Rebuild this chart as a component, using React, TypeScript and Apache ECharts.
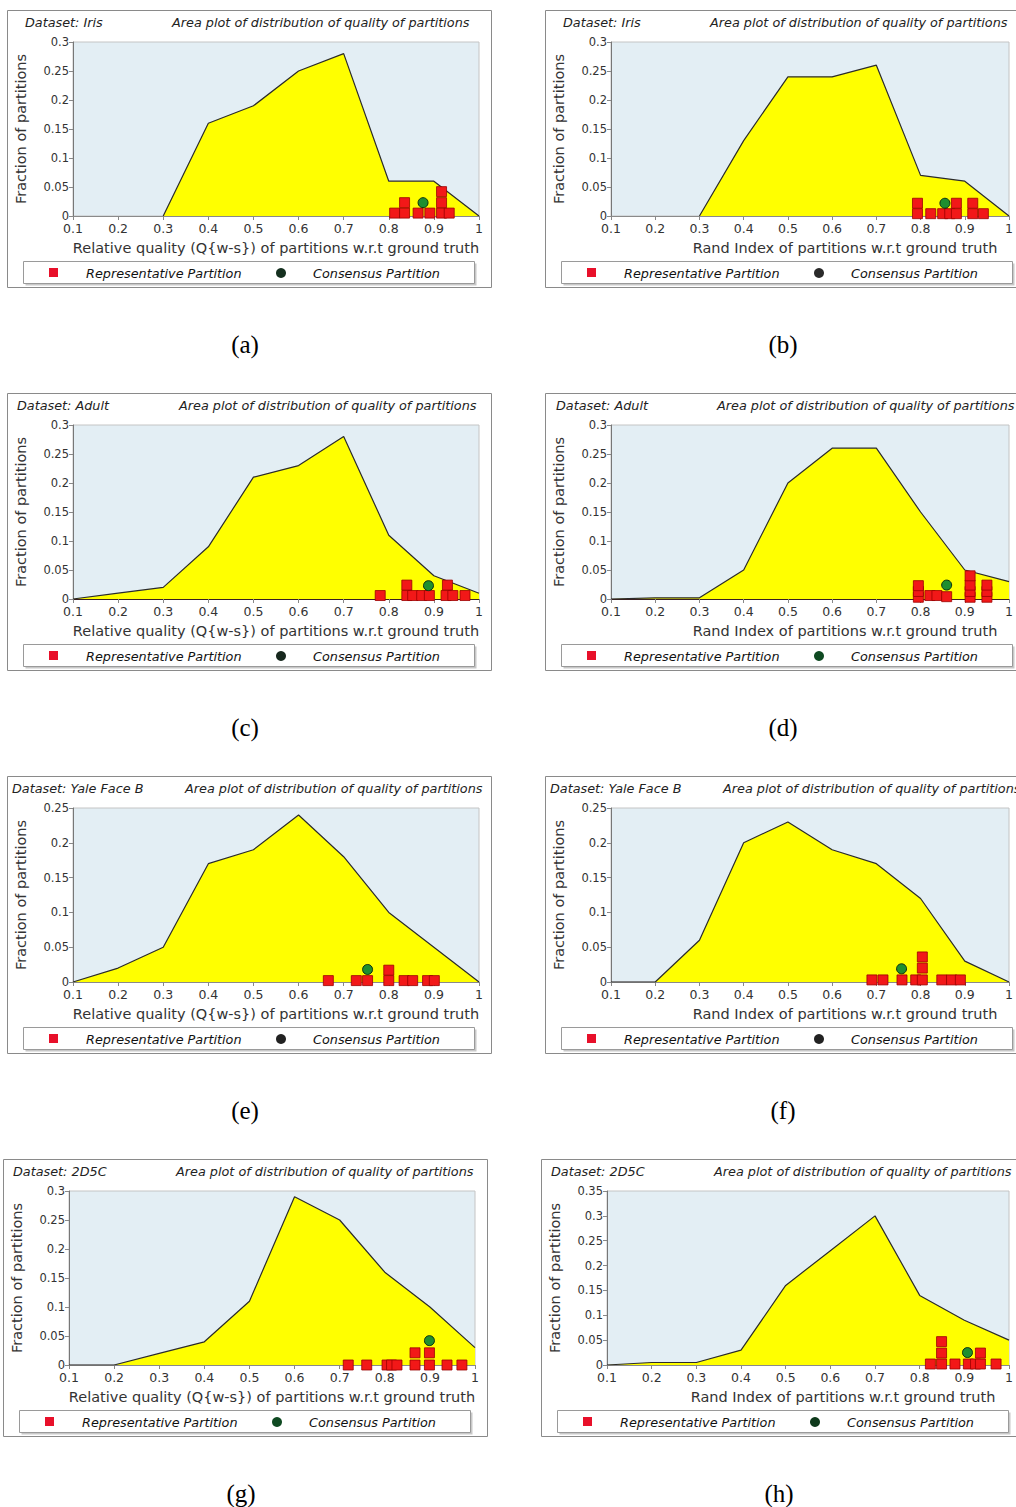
import React, { useEffect, useRef } from "react";
import * as echarts from "echarts";

// Quality bins (x positions of the area-plot vertices)
const qualityBins = [0.1, 0.2, 0.3, 0.4, 0.5, 0.6, 0.7, 0.8, 0.9, 1.0];

// Fraction of partitions per quality bin (null = bin not populated)
const irisQws = [null, null, 0, 0.16, 0.19, 0.25, 0.28, 0.06, 0.06, 0];
const irisRand = [null, null, 0, 0.13, 0.24, 0.24, 0.26, 0.07, 0.06, 0];
const adultQws = [0, 0.01, 0.02, 0.09, 0.21, 0.23, 0.28, 0.11, 0.04, 0.01];
const adultRand = [0, 0.002, 0.002, 0.05, 0.2, 0.26, 0.26, 0.15, 0.05, 0.03];
const yaleQws = [0, 0.02, 0.05, 0.17, 0.19, 0.24, 0.18, 0.1, 0.05, 0];
const yaleRand = [0, 0, 0.06, 0.2, 0.23, 0.19, 0.17, 0.12, 0.03, 0];
const d2d5cQws = [0, 0, 0.02, 0.04, 0.11, 0.29, 0.25, 0.16, 0.1, 0.03];
const d2d5cRand = [0, 0.005, 0.005, 0.03, 0.16, 0.23, 0.3, 0.14, 0.09, 0.05];

type Pt = [number, number];

// Representative partitions [quality, stacked height]
const irisQwsReps: Pt[] = [
  [0.813, 0.005], [0.835, 0.005], [0.865, 0.005], [0.891, 0.005], [0.917, 0.005], [0.934, 0.005],
  [0.835, 0.023], [0.917, 0.023], [0.917, 0.042],
];
const irisRandReps: Pt[] = [
  [0.793, 0.004], [0.823, 0.004], [0.85, 0.004], [0.866, 0.004], [0.881, 0.004], [0.918, 0.004], [0.942, 0.004],
  [0.793, 0.022], [0.881, 0.022], [0.918, 0.022],
];
const adultQwsReps: Pt[] = [
  [0.781, 0.006], [0.84, 0.006], [0.853, 0.006], [0.873, 0.006], [0.89, 0.006], [0.927, 0.006], [0.942, 0.006], [0.969, 0.006],
  [0.84, 0.024], [0.93, 0.024],
];
const adultRandReps: Pt[] = [
  [0.795, 0.003], [0.795, 0.013], [0.795, 0.023],
  [0.821, 0.006], [0.837, 0.006], [0.859, 0.004],
  [0.912, 0.003], [0.912, 0.013], [0.912, 0.024], [0.912, 0.04],
  [0.95, 0.003], [0.95, 0.013], [0.95, 0.024],
];
const yaleQwsReps: Pt[] = [
  [0.666, 0.002], [0.728, 0.002], [0.753, 0.002], [0.8, 0.002], [0.834, 0.002], [0.853, 0.002], [0.886, 0.002], [0.901, 0.002],
  [0.8, 0.017],
];
const yaleRandReps: Pt[] = [
  [0.69, 0.003], [0.715, 0.003], [0.758, 0.003], [0.789, 0.003], [0.804, 0.003], [0.848, 0.003], [0.87, 0.003], [0.89, 0.003],
  [0.804, 0.02], [0.804, 0.036],
];
const d2d5cQwsReps: Pt[] = [
  [0.719, 0], [0.76, 0], [0.805, 0], [0.815, 0], [0.827, 0], [0.867, 0], [0.899, 0], [0.938, 0], [0.971, 0],
  [0.867, 0.021], [0.899, 0.021],
];
const d2d5cRandReps: Pt[] = [
  [0.824, 0.002], [0.849, 0.002], [0.879, 0.002], [0.909, 0.002], [0.925, 0.002], [0.936, 0.002], [0.971, 0.002],
  [0.849, 0.024], [0.849, 0.047], [0.936, 0.024],
];

// Consensus partition [quality, height]
const irisQwsConsensus: Pt = [0.876, 0.023];
const irisRandConsensus: Pt = [0.855, 0.022];
const adultQwsConsensus: Pt = [0.888, 0.023];
const adultRandConsensus: Pt = [0.859, 0.024];
const yaleQwsConsensus: Pt = [0.753, 0.018];
const yaleRandConsensus: Pt = [0.757, 0.019];
const d2d5cQwsConsensus: Pt = [0.899, 0.042];
const d2d5cRandConsensus: Pt = [0.907, 0.025];

const datasetNames = ["Iris", "Iris", "Adult", "Adult", "Yale Face B", "Yale Face B", "2D5C", "2D5C"];
const yMaxima = [0.3, 0.3, 0.3, 0.3, 0.25, 0.25, 0.3, 0.35];
const captions = ["(a)", "(b)", "(c)", "(d)", "(e)", "(f)", "(g)", "(h)"];
const fractionSets = [irisQws, irisRand, adultQws, adultRand, yaleQws, yaleRand, d2d5cQws, d2d5cRand];
const repSets = [irisQwsReps, irisRandReps, adultQwsReps, adultRandReps, yaleQwsReps, yaleRandReps, d2d5cQwsReps, d2d5cRandReps];
const consensusSets = [
  irisQwsConsensus, irisRandConsensus, adultQwsConsensus, adultRandConsensus,
  yaleQwsConsensus, yaleRandConsensus, d2d5cQwsConsensus, d2d5cRandConsensus,
];

const QWS_NAME = "Relative quality (Q{w-s}) of partitions w.r.t ground truth";
const RAND_NAME = "Rand Index of partitions w.r.t ground truth";
const PLOT_TITLE = "Area plot of distribution of quality of partitions";

// Panel layout (pixels)
const rowTops = [10, 393, 776, 1159];
const leftTitleOffset = [18, 18, 10, 11, 5, 5, 10, 10];
const rightTitleOffset = [165, 165, 172, 172, 178, 178, 173, 173];
const legendDotColors = ["#15301f", "#2a2a2a", "#17281e", "#0f4a22", "#222222", "#222222", "#0f4a22", "#0f3a1c"];
const xAxisLineColors = ["#8a8a8a", "#8a8a8a", "#3a2020", "#3a2020", "#8a8a8a", "#8a8a8a", "#8a8a8a", "#8a8a8a"];

const FONT = '"DejaVu Sans"';

function panelOrigin(i: number) {
  const row = Math.floor(i / 2);
  const col = i % 2;
  const x0 = row < 3 ? (col === 0 ? 7 : 545) : col === 0 ? 3 : 541;
  return { x0, y0: rowTops[row], row, col };
}

function buildOption() {
  const grid: any[] = [];
  const xAxis: any[] = [];
  const yAxis: any[] = [];
  const series: any[] = [];
  const graphic: any[] = [];

  for (let i = 0; i < 8; i++) {
    const { x0, y0, col } = panelOrigin(i);
    const isRand = col === 1;

    grid.push({
      left: x0 + 66,
      top: y0 + 32,
      width: 406,
      height: 174,
      show: true,
      backgroundColor: "#e3eef4",
      borderColor: "#c4c4c4",
      borderWidth: 1,
    });

    xAxis.push({
      gridIndex: i,
      type: "value",
      min: 0.1,
      max: 1,
      interval: 0.1,
      name: isRand ? RAND_NAME : QWS_NAME,
      nameLocation: "middle",
      nameGap: 24,
      nameTextStyle: {
        fontFamily: FONT,
        fontSize: 14.5,
        color: "#333",
        padding: isRand ? [0, 0, 0, 70] : 0,
      },
      axisLine: { show: true, onZero: false, lineStyle: { color: xAxisLineColors[i], width: 1 } },
      axisTick: { show: true, length: 4, lineStyle: { color: "#888" } },
      axisLabel: { fontFamily: FONT, fontSize: 12.5, color: "#333", margin: 6, showMinLabel: true, showMaxLabel: true },
      splitLine: { show: false },
    });

    yAxis.push({
      gridIndex: i,
      type: "value",
      min: 0,
      max: yMaxima[i],
      interval: 0.05,
      name: "Fraction of partitions",
      nameLocation: "middle",
      nameGap: 45,
      nameTextStyle: { fontFamily: FONT, fontSize: 14.5, color: "#333" },
      axisLine: { show: true, lineStyle: { color: "#777", width: 1 } },
      axisTick: { show: true, length: 4, lineStyle: { color: "#888" } },
      axisLabel: { fontFamily: FONT, fontSize: 11.5, color: "#333", margin: 4 },
      splitLine: { show: false },
    });

    series.push({
      type: "line",
      name: "Distribution",
      xAxisIndex: i,
      yAxisIndex: i,
      data: qualityBins.map((q, k) => [q, fractionSets[i][k]]),
      symbol: "none",
      connectNulls: false,
      lineStyle: { color: "#2b2b2b", width: 1.2 },
      areaStyle: { color: "#ffff00", opacity: 1 },
      z: 2,
      silent: true,
    });
    series.push({
      type: "scatter",
      name: "Representative Partition",
      xAxisIndex: i,
      yAxisIndex: i,
      data: repSets[i],
      symbol: "rect",
      symbolSize: 10,
      itemStyle: { color: "#f21818", borderColor: "#9a0000", borderWidth: 0.8, opacity: 1 },
      z: 3,
    });
    series.push({
      type: "scatter",
      name: "Consensus Partition",
      xAxisIndex: i,
      yAxisIndex: i,
      data: [consensusSets[i]],
      symbol: "circle",
      symbolSize: 10,
      itemStyle: { color: "#1f8f2f", borderColor: "#0b2e12", borderWidth: 1, opacity: 1 },
      z: 4,
    });

    // Panel frame
    graphic.push({
      type: "rect",
      shape: { x: x0 + 0.5, y: y0 + 0.5, width: 484, height: 277 },
      style: { fill: "none", stroke: "#8a8a8a", lineWidth: 1 },
      silent: true,
    });
    // Panel titles
    graphic.push({
      type: "text",
      x: x0 + leftTitleOffset[i],
      y: y0 + 12,
      style: {
        text: "Dataset: " + datasetNames[i],
        font: `italic 12.8px ${FONT}`,
        fill: "#222",
        textAlign: "left",
        textVerticalAlign: "middle",
      },
      silent: true,
    });
    graphic.push({
      type: "text",
      x: x0 + rightTitleOffset[i],
      y: y0 + 12,
      style: {
        text: PLOT_TITLE,
        font: `italic 12.8px ${FONT}`,
        fill: "#222",
        textAlign: "left",
        textVerticalAlign: "middle",
      },
      silent: true,
    });
    // Legend box with shadow
    graphic.push({
      type: "rect",
      shape: { x: x0 + 18.5, y: y0 + 253.5, width: 451, height: 22 },
      style: { fill: "#c8c8c8", stroke: "none" },
      silent: true,
    });
    graphic.push({
      type: "rect",
      shape: { x: x0 + 16.5, y: y0 + 251.5, width: 451, height: 22 },
      style: { fill: "#ffffff", stroke: "#9a9a9a", lineWidth: 1 },
      silent: true,
    });
    graphic.push({
      type: "rect",
      shape: { x: x0 + 42, y: y0 + 258, width: 9, height: 9 },
      style: { fill: "#e8102a" },
      silent: true,
    });
    graphic.push({
      type: "text",
      x: x0 + 79,
      y: y0 + 263,
      style: {
        text: "Representative Partition",
        font: `italic 12.8px ${FONT}`,
        fill: "#111",
        textAlign: "left",
        textVerticalAlign: "middle",
      },
      silent: true,
    });
    graphic.push({
      type: "circle",
      shape: { cx: x0 + 274, cy: y0 + 263, r: 5 },
      style: { fill: legendDotColors[i] },
      silent: true,
    });
    graphic.push({
      type: "text",
      x: x0 + 306,
      y: y0 + 263,
      style: {
        text: "Consensus Partition",
        font: `italic 12.8px ${FONT}`,
        fill: "#111",
        textAlign: "left",
        textVerticalAlign: "middle",
      },
      silent: true,
    });
    // Sub-figure caption
    graphic.push({
      type: "text",
      x: x0 + 238,
      y: y0 + 334,
      style: {
        text: captions[i],
        font: '25px "Liberation Serif"',
        fill: "#000",
        textAlign: "center",
        textVerticalAlign: "middle",
      },
      silent: true,
    });
  }

  return {
    animation: false,
    backgroundColor: "#ffffff",
    textStyle: { fontFamily: FONT },
    grid,
    xAxis,
    yAxis,
    series,
    graphic,
  };
}

export default function App() {
  const ref = useRef<HTMLDivElement>(null);

  useEffect(() => {
    if (!ref.current) return;
    const chart = echarts.init(ref.current, undefined, { renderer: "svg" });
    chart.setOption(buildOption() as any);
    return () => chart.dispose();
  }, []);

  return (
    <div
      ref={ref}
      style={{ position: "absolute", left: 0, top: 0, width: 1016, height: 1507, background: "#fff" }}
    />
  );
}
